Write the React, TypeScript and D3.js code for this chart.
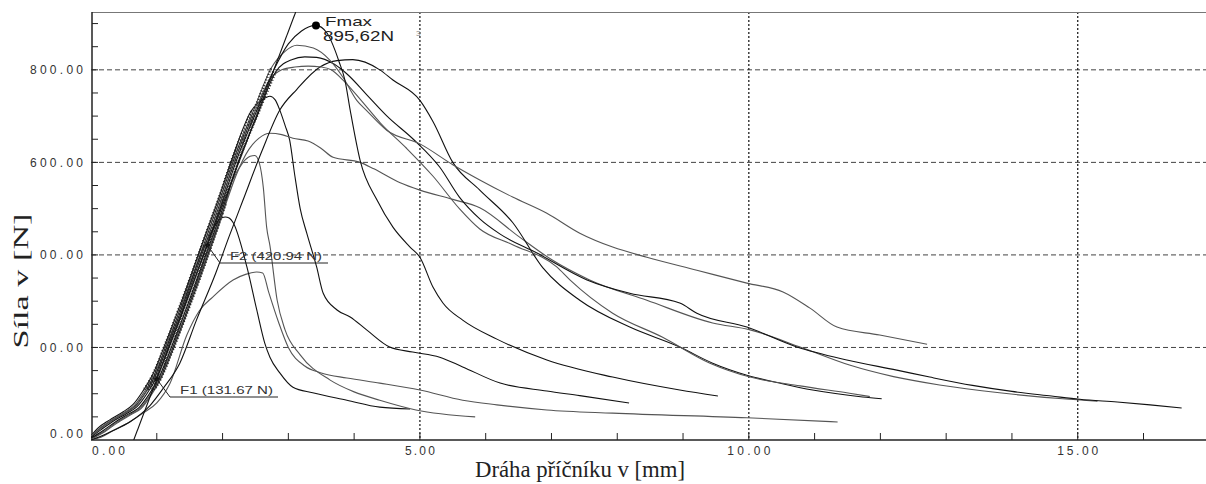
import React from "react";
import * as d3 from "d3";

type Pt = [number, number];

// force [N] vs crosshead travel [mm]
const curveFmax: Pt[] = [
  [0, 6], [0.15, 22], [0.33, 40], [0.55, 58], [0.7, 72], [0.85, 100], [1.0, 136], [1.2, 205],
  [1.45, 298], [1.76, 421], [2.0, 515], [2.2, 600], [2.5, 705], [2.78, 800], [3.0, 856],
  [3.2, 884], [3.42, 896], [3.59, 879], [3.71, 842], [3.77, 818], [3.86, 778], [3.94, 713],
  [4.09, 605], [4.35, 518], [4.59, 460], [4.85, 417], [5.0, 395], [5.2, 330], [5.35, 296],
  [5.65, 259], [6.17, 218], [6.93, 173], [7.93, 136], [8.95, 108], [9.53, 95]
];

const curveB: Pt[] = [
  [0, 8], [0.12, 24], [0.3, 42], [0.51, 60], [0.66, 75], [0.81, 104], [0.96, 140], [1.16, 210],
  [1.41, 303], [1.72, 425], [1.96, 520], [2.16, 604], [2.46, 708], [2.74, 804], [2.95, 840],
  [3.13, 853], [3.38, 847], [3.63, 821], [3.83, 784], [4.04, 734], [4.19, 712], [4.5, 669],
  [5.0, 640], [5.5, 595], [5.91, 562], [6.41, 525], [6.93, 490], [7.43, 447], [7.93, 417],
  [8.45, 395], [9.21, 367], [9.97, 339], [10.52, 320], [10.93, 285], [11.34, 244], [11.99, 227],
  [12.71, 207]
];

const curveC: Pt[] = [
  [0, 4], [0.18, 20], [0.36, 38], [0.58, 57], [0.73, 70], [0.88, 98], [1.03, 134], [1.23, 203],
  [1.48, 296], [1.79, 418], [2.03, 512], [2.23, 597], [2.53, 702], [2.81, 796], [3.05, 822],
  [3.25, 828], [3.43, 827], [3.7, 812], [3.9, 790], [4.2, 745], [4.5, 700], [4.9, 650],
  [5.3, 590], [5.6, 525], [5.91, 478], [6.22, 445], [6.78, 404], [7.54, 346], [8.19, 317],
  [8.95, 296], [9.21, 274], [9.97, 244], [10.73, 201], [11.49, 173], [12.25, 151], [12.75, 136],
  [13.4, 118], [14.0, 105], [14.6, 95], [15.03, 88], [15.6, 82], [16.1, 76], [16.58, 69]
];

const curveD: Pt[] = [
  [0, 7], [0.13, 23], [0.31, 41], [0.53, 59], [0.68, 73], [0.83, 102], [0.98, 138], [1.18, 207],
  [1.43, 300], [1.74, 423], [1.98, 517], [2.18, 602], [2.48, 706], [2.7, 775], [2.9, 800],
  [3.1, 806], [3.3, 808], [3.5, 806], [3.65, 800], [3.85, 775], [4.1, 735], [4.4, 685],
  [4.8, 630], [5.2, 570], [5.6, 500], [5.91, 456], [6.41, 422], [7.08, 374], [7.28, 346],
  [7.93, 274], [8.69, 222], [9.41, 166], [10.02, 136], [10.78, 117], [11.53, 101], [11.84, 94]
];

const curveE: Pt[] = [
  [0, 0], [0.15, 8], [0.3, 18], [0.6, 40], [0.9, 75], [1.1, 112], [1.35, 166], [1.6, 258],
  [1.9, 362], [2.1, 440], [2.31, 518], [2.6, 625], [2.87, 713], [3.13, 758], [3.48, 806],
  [3.74, 820], [3.98, 822], [4.39, 800], [4.59, 778], [5.0, 734], [5.2, 688], [5.5, 600],
  [5.91, 540], [6.41, 470], [6.87, 372], [7.43, 302], [8.19, 244], [8.95, 201], [9.45, 166],
  [9.97, 140], [10.47, 123], [10.97, 108], [11.73, 93], [12.02, 89]
];

const curveF: Pt[] = [
  [0, 3], [0.2, 19], [0.38, 37], [0.6, 56], [0.75, 69], [0.9, 97], [1.05, 133], [1.25, 201],
  [1.5, 294], [1.81, 416], [2.05, 510], [2.2, 570], [2.4, 628], [2.55, 652], [2.72, 663],
  [2.9, 660], [3.07, 652], [3.3, 646], [3.5, 630], [3.68, 611], [4.09, 600], [4.3, 586],
  [4.7, 556], [5.0, 540], [5.5, 520], [5.91, 502], [6.5, 440], [7.0, 390], [7.58, 346],
  [8.45, 302], [9.45, 253], [10.02, 238], [10.8, 200], [11.53, 162], [12.2, 137], [12.9, 119],
  [13.81, 102], [14.77, 89], [15.3, 84]
];

const curveG: Pt[] = [
  [0, 9], [0.1, 25], [0.28, 43], [0.49, 61], [0.64, 77], [0.79, 106], [0.94, 142], [1.14, 212],
  [1.39, 305], [1.7, 428], [1.94, 522], [2.14, 606], [2.44, 712], [2.6, 735], [2.72, 743],
  [2.8, 735], [2.87, 713], [2.95, 680], [3.02, 648], [3.1, 570], [3.18, 500], [3.28, 447],
  [3.43, 374], [3.53, 317], [3.74, 281], [3.94, 266], [4.19, 238], [4.54, 201], [4.89, 190],
  [5.3, 179], [5.65, 158], [6.22, 123], [6.93, 106], [7.43, 96], [8.18, 80]
];

const curveH: Pt[] = [
  [0, 2], [0.21, 18], [0.39, 36], [0.61, 55], [0.76, 68], [0.91, 96], [1.06, 132], [1.26, 200],
  [1.51, 293], [1.82, 415], [2.0, 490], [2.15, 560], [2.3, 598], [2.42, 613], [2.49, 615],
  [2.56, 598], [2.62, 545], [2.67, 460], [2.72, 420], [2.83, 302], [2.95, 238], [3.18, 184],
  [3.63, 130], [4.0, 104], [4.39, 86], [4.94, 65], [5.84, 50]
];

const curveI: Pt[] = [
  [0, 7], [0.12, 23], [0.3, 41], [0.52, 59], [0.67, 73], [0.82, 101], [0.97, 137], [1.17, 206],
  [1.42, 299], [1.73, 422], [1.88, 462], [1.96, 478], [2.04, 482], [2.1, 480], [2.16, 470],
  [2.37, 374], [2.52, 281], [2.64, 210], [2.72, 179], [2.87, 145], [3.07, 114], [3.37, 102],
  [3.89, 86], [4.39, 71], [4.85, 67]
];

const curveJ: Pt[] = [
  [0, 0], [0.15, 6], [0.33, 20], [0.6, 40], [0.79, 58], [1.0, 80], [1.2, 122], [1.46, 228],
  [1.65, 280], [1.85, 309], [2.16, 346], [2.35, 358], [2.52, 363], [2.61, 361], [2.7, 320],
  [2.85, 255], [3.0, 200], [3.25, 160], [3.5, 145], [3.89, 134], [4.39, 123], [5.0, 108],
  [5.65, 86], [6.17, 76], [6.93, 65], [7.93, 58], [9.97, 48], [11.35, 39]
];

const seriesList: Pt[][] = [curveJ, curveI, curveH, curveG, curveF, curveE, curveD, curveC, curveB, curveFmax];
const seriesColors = ["#555", "#111", "#555", "#111", "#555", "#111", "#555", "#111", "#555", "#111"];
// the curves that run together up the elastic part, and how many of their points lie in that bundle
const bundleList: Pt[][] = [curveFmax, curveB, curveC, curveD, curveF, curveG, curveH, curveI];
const bundleCounts = [14, 14, 14, 13, 11, 13, 11, 10];

const F1: Pt = [1.0, 131.67];
const F2: Pt = [1.77, 420.94];
const FMAX: Pt = [3.42, 895.62];

const yGrid = [200, 400, 600, 800];
const yLabels = ["0.00", "200.00", "400.00", "600.00", "800.00"];
const yLabelValues = [0, 200, 400, 600, 800];
const xGrid = [5, 10, 15];
const xLabels = ["0.00", "5.00", "10.00", "15.00"];
const xLabelValues = [0, 5, 10, 15];

const W = 1206;
const H = 484;

export default function App() {
  const x = d3.scaleLinear().domain([0, 16.95]).range([91, 1206]);
  const y = d3.scaleLinear().domain([0, 925]).range([440, 12]);
  const line = d3.line<Pt>().x(d => x(d[0])).y(d => y(d[1])).curve(d3.curveMonotoneX);

  // secant through F1 and F2, stretched to the axis and to the top
  const slope = (F2[1] - F1[1]) / (F2[0] - F1[0]);
  const sx0 = F1[0] - F1[1] / slope;
  const sx1 = F1[0] + (925 - F1[1]) / slope;

  const minorY = d3.range(50, 925, 50);
  const minorX = d3.range(1, 17, 1);

  const sans = "Liberation Sans, Arial, sans-serif";
  const serif = "Liberation Serif, Times New Roman, serif";
  const tickFont = { fontFamily: sans, fontSize: 12, fill: "#333" };
  const xLabelWidths = [33, 30, 43, 41];
  const yLabelWidths = [33, 53, 53, 53, 53];

  return (
    <svg width={W} height={H} style={{ position: "absolute", left: 0, top: 0, background: "#fff" }}>
      <defs>
        <clipPath id="plot-clip">
          <rect x={91} y={12} width={W - 91} height={428} />
        </clipPath>
        <clipPath id="hatch-clip">
          <rect x={140} y={60} width={150} height={330} />
        </clipPath>
      </defs>

      {/* grid */}
      {yGrid.map(v => (
        <line key={"gy" + v} x1={x(0)} x2={W} y1={y(v)} y2={y(v)} stroke="#444" strokeDasharray="5,3" />
      ))}
      {xGrid.map(v => (
        <line key={"gx" + v} x1={x(v)} x2={x(v)} y1={12} y2={440} stroke="#222" strokeDasharray="2,2" strokeWidth={1.3} />
      ))}

      {/* frame and axes */}
      <line x1={92} x2={W} y1={12.5} y2={12.5} stroke="#777" />
      <line x1={92} x2={92} y1={12} y2={440} stroke="#222" strokeWidth={1.5} />
      <line x1={91} x2={W} y1={440} y2={440} stroke="#222" strokeWidth={1.5} />
      {minorY.map(v => (
        <line key={"ty" + v} x1={92} x2={98} y1={y(v)} y2={y(v)} stroke="#222" />
      ))}
      {minorX.map(v => (
        <line key={"tx" + v} x1={x(v)} x2={x(v)} y1={433} y2={440} stroke="#222" />
      ))}

      {/* curves */}
      <g clipPath="url(#plot-clip)" fill="none">
        {seriesList.map((s, i) => (
          <path key={"c" + i} d={line(s) || ""} stroke={seriesColors[i]} strokeWidth={1.1} />
        ))}
        <line x1={x(sx0)} y1={y(0)} x2={x(sx1)} y2={y(925)} stroke="#111" strokeWidth={1.1} />
      </g>
      <g clipPath="url(#hatch-clip)" fill="none">
        {bundleList.map((s, i) => (
          <path key={"h" + i} d={line(s.slice(0, bundleCounts[i])) || ""} stroke="#222" strokeWidth={2.4} strokeDasharray="1,2" />
        ))}
      </g>

      {/* F1 / F2 markers */}
      <circle cx={x(F1[0])} cy={y(F1[1])} r={2.2} fill="#111" />
      <circle cx={x(F2[0])} cy={y(F2[1])} r={2.2} fill="#111" />
      <polyline points={`${x(F1[0])},${y(F1[1])} 170,397 278,397`} fill="none" stroke="#222" />
      <polyline points={`${x(F2[0])},${y(F2[1])} 220,263 328,263`} fill="none" stroke="#222" />
      <text x={180} y={394} fontFamily={sans} fontSize={10} fill="#333" textLength={93} lengthAdjust="spacingAndGlyphs">F1 (131.67 N)</text>
      <text x={230} y={260} fontFamily={sans} fontSize={10} fill="#333" textLength={92} lengthAdjust="spacingAndGlyphs">F2 (420.94 N)</text>

      {/* Fmax */}
      <circle cx={x(FMAX[0])} cy={y(FMAX[1])} r={4} fill="#000" />
      <text x={325} y={26} fontFamily={sans} fontSize={13} fill="#222" textLength={47} lengthAdjust="spacingAndGlyphs">Fmax</text>
      <text x={323} y={41} fontFamily={sans} fontSize={14} fill="#222" textLength={71} lengthAdjust="spacingAndGlyphs">895,62N</text>
      <text x={416} y={36} fontFamily={sans} fontSize={8} fill="#888">3</text>

      {/* tick labels */}
      {yLabels.map((t, i) => (
        <text key={"ly" + i} x={83} y={(yLabelValues[i] === 0 ? 433 : y(yLabelValues[i])) + 4.5} textAnchor="end" {...tickFont} textLength={yLabelWidths[i]} lengthAdjust="spacing">{t}</text>
      ))}
      {xLabels.map((t, i) => (
        <text key={"lx" + i} x={xLabelValues[i] === 0 ? 92 : x(xLabelValues[i])} y={455} textAnchor={xLabelValues[i] === 0 ? "start" : "middle"} {...tickFont} textLength={xLabelWidths[i]} lengthAdjust="spacing">{t}</text>
      ))}

      {/* axis titles */}
      <rect x={0} y={205} width={37} height={150} fill="#fff" />
      <g transform="translate(20,281) rotate(-90)">
        <text textAnchor="middle" dominantBaseline="central" fontFamily={serif} fontSize={22} fill="#222" textLength={135} lengthAdjust="spacingAndGlyphs">Síla v [N]</text>
      </g>
      <text x={580} y={477} textAnchor="middle" fontFamily={serif} fontSize={24} fill="#222" textLength={210} lengthAdjust="spacingAndGlyphs">Dráha příčníku v [mm]</text>
    </svg>
  );
}
